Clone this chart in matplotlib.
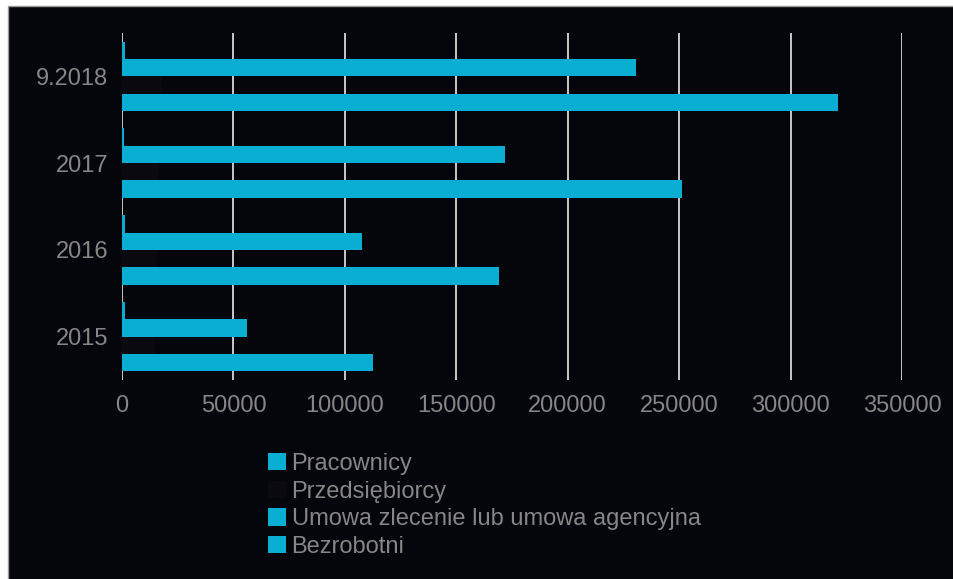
import matplotlib.pyplot as plt
import matplotlib.patches as mpatches
import numpy as np

# data
categories = ["2015", "2016", "2017", "9.2018"]
series_names = ["Pracownicy", "Przedsiębiorcy",
                "Umowa zlecenie lub umowa agencyjna", "Bezrobotni"]
pracownicy = [112600, 169200, 251300, 321300]
przedsiebiorcy = [15000, 15500, 16500, 18000]
umowa_zlecenie = [56100, 107700, 171900, 230600]
bezrobotni = [1300, 1200, 1000, 1200]
xticks = [0, 50000, 100000, 150000, 200000, 250000, 300000, 350000]

BG = "#05050c"
CYAN = "#0aaed3"
TEXT = "#868686"

plt.rcParams["font.family"] = ["Liberation Sans", "DejaVu Sans"]

fig = plt.figure(figsize=(9.54, 5.79), dpi=100)
fig.patch.set_facecolor("white")
# dark panel with the thin white frame at top and left
fig.add_artist(mpatches.Rectangle((8 / 954, -0.05), 1.1, (579 - 6) / 579 + 0.05,
                                  transform=fig.transFigure, facecolor=BG,
                                  edgecolor="#9a9a9a", linewidth=1.0, zorder=0))

ax = fig.add_axes([122 / 954, 199 / 579, 780 / 954, 347 / 579])
ax.set_facecolor("none")

y = np.arange(len(categories))
h = 0.2
colors = [CYAN, "#09090f", CYAN, CYAN]
all_values = [pracownicy, przedsiebiorcy, umowa_zlecenie, bezrobotni]
handles = []
for i, (name, vals, col) in enumerate(zip(series_names, all_values, colors)):
    b = ax.barh(y + (i - 1.5) * h, vals, height=h, color=col, zorder=3, label=name)
    handles.append(b)

ax.set_xlim(0, 350000)
ax.set_ylim(-0.5, 3.5)
ax.set_xticks(xticks)
ax.set_xticklabels([str(v) for v in xticks])
ax.set_yticks(y)
ax.set_yticklabels(categories)
ax.tick_params(axis="both", length=0, colors=TEXT, labelsize=17)
ax.tick_params(axis="x", pad=11)
ax.tick_params(axis="y", pad=10)
ax.grid(axis="x", color="#c8c8c8", linewidth=1.4, zorder=1)
ax.grid(axis="y", visible=False)
for s in ax.spines.values():
    s.set_visible(False)

leg = fig.legend(handles=handles, labels=series_names,
                 loc="upper left", bbox_to_anchor=(268 / 954, 1 - 453 / 579),
                 frameon=False, fontsize=17, labelcolor=TEXT,
                 handlelength=0.75, handleheight=0.75, handletextpad=0.25,
                 labelspacing=0.24, borderpad=0, borderaxespad=0)

fig.savefig("out.png", dpi=100, facecolor=fig.get_facecolor())
